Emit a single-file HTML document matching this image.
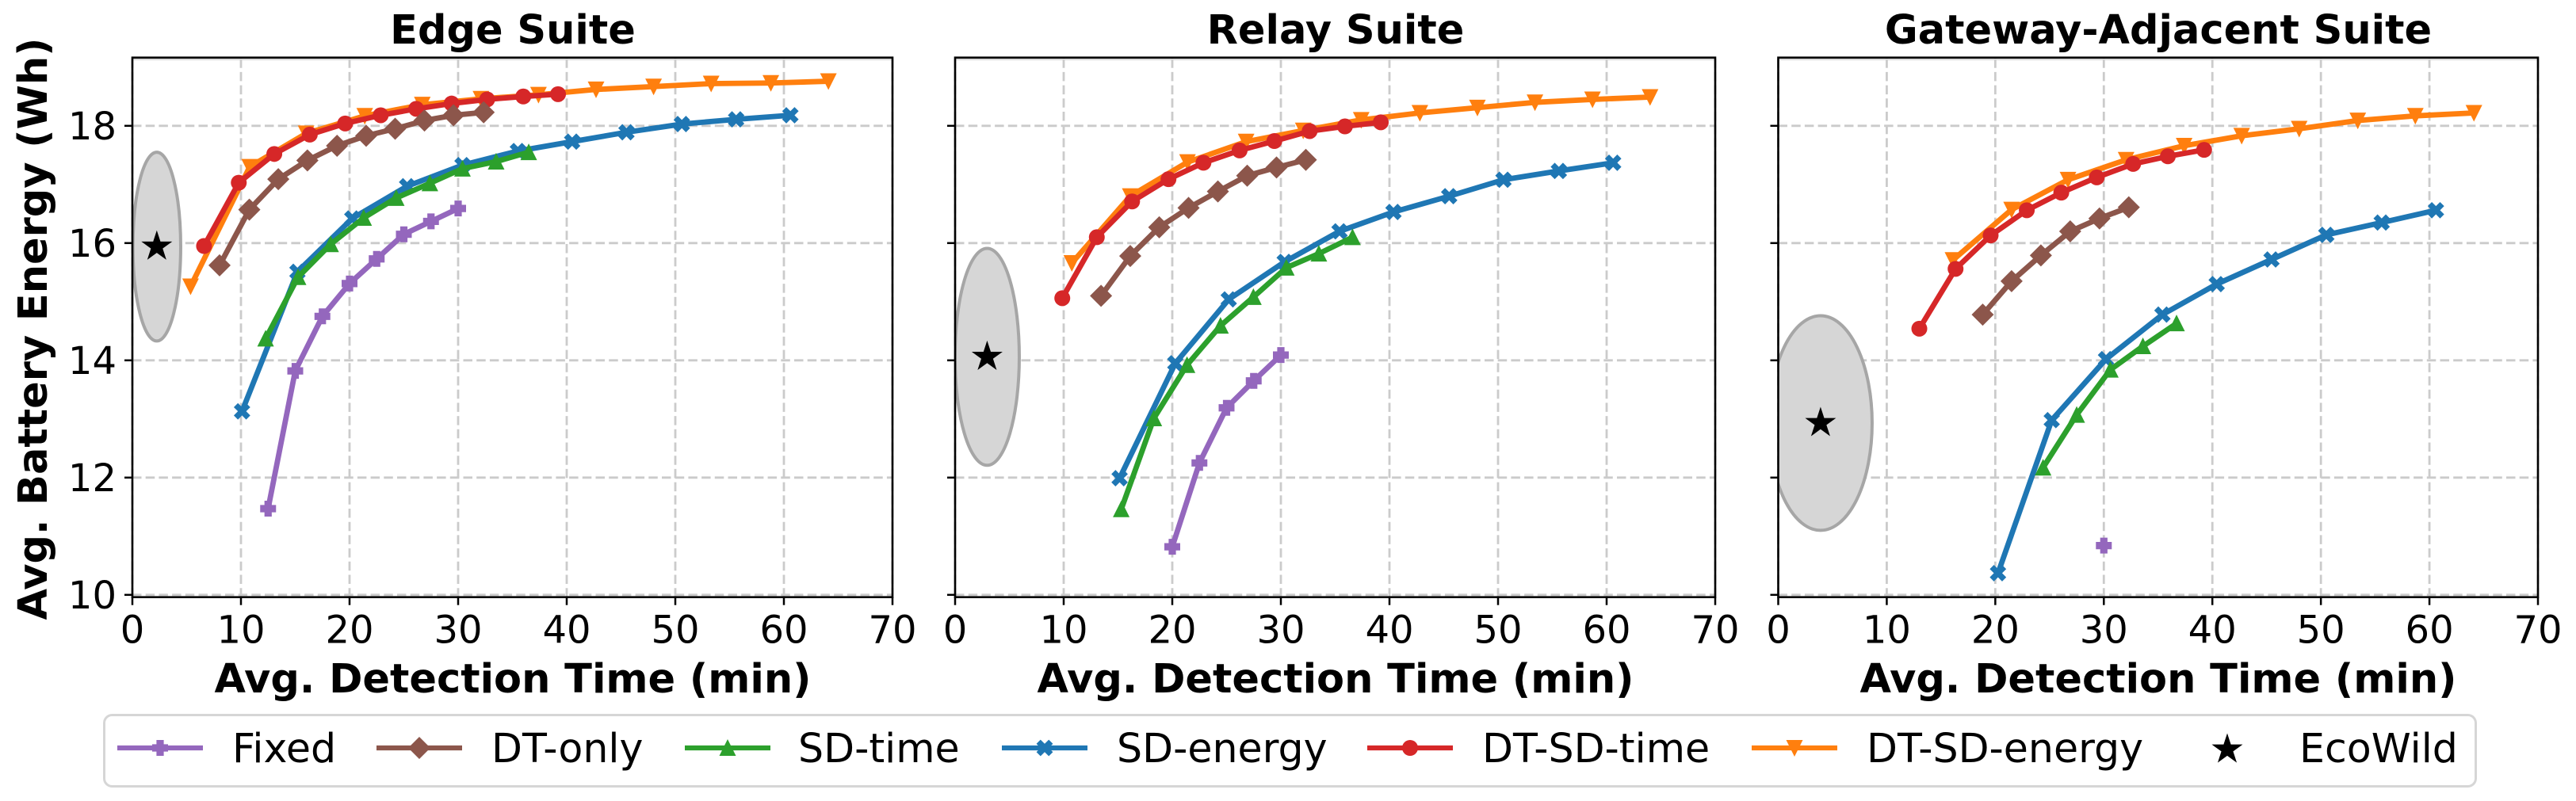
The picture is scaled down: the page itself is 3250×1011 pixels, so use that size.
<!DOCTYPE html>
<html lang="en">
<head>
<meta charset="utf-8">
<title>Avg. Battery Energy vs Avg. Detection Time</title>
<style>
html,body{margin:0;padding:0;background:#fff;}
svg{display:block;}
text{font-family:"DejaVu Sans","Liberation Sans",sans-serif;fill:#000;}
.title,.axis-title{font-size:51px;font-weight:bold;text-anchor:middle;}
.tick{font-size:48px;}
.legend-text{font-size:50.6px;}
</style>
</head>
<body>
<svg id="chart" xmlns="http://www.w3.org/2000/svg" width="3250" height="1011" viewBox="0 0 3250 1011">
  <rect x="0" y="0" width="3250" height="1011" fill="#ffffff"/>
  <g id="panels"></g>
  <text class="axis-title" transform="translate(59,415) rotate(-90)">Avg. Battery Energy (Wh)</text>
  <text class="title" x="647" y="55">Edge Suite</text>
  <text class="title" x="1685" y="55">Relay Suite</text>
  <text class="title" x="2723" y="55">Gateway-Adjacent Suite</text>
  <text class="axis-title" x="647" y="874">Avg. Detection Time (min)</text>
  <text class="axis-title" x="1685" y="874">Avg. Detection Time (min)</text>
  <text class="axis-title" x="2723" y="874">Avg. Detection Time (min)</text>
  <g id="legend">
    <rect x="131.5" y="902.5" width="2992" height="90" rx="10" ry="10" fill="#ffffff" stroke="#d6d6d6" stroke-width="3"/>
    <text class="legend-text" x="293" y="962">Fixed</text>
    <text class="legend-text" x="620" y="962">DT-only</text>
    <text class="legend-text" x="1007" y="962">SD-time</text>
    <text class="legend-text" x="1409" y="962">SD-energy</text>
    <text class="legend-text" x="1870" y="962">DT-SD-time</text>
    <text class="legend-text" x="2355" y="962">DT-SD-energy</text>
    <text class="legend-text" x="2901" y="962">EcoWild</text>
  </g>
</svg>
<script>
// ---------- Chart values ----------
const xTickValues = [0, 10, 20, 30, 40, 50, 60, 70];
const yTickValues = [10, 12, 14, 16, 18];

// Edge Suite
const edgeFixedX = [12.5, 15, 17.5, 20, 22.5, 25, 27.5, 30];
const edgeFixedY = [11.47, 13.82, 14.75, 15.31, 15.73, 16.15, 16.37, 16.59];
const edgeDtOnlyX = [8.03, 10.77, 13.44, 16.12, 18.85, 21.53, 24.2, 26.9, 29.57, 32.35];
const edgeDtOnlyY = [15.62, 16.57, 17.09, 17.41, 17.66, 17.83, 17.95, 18.09, 18.18, 18.23];
const edgeSdTimeX = [12.27, 15.26, 18.26, 21.3, 24.3, 27.4, 30.4, 33.5, 36.5];
const edgeSdTimeY = [14.37, 15.42, 15.98, 16.43, 16.77, 17.02, 17.27, 17.39, 17.55];
const edgeSdEnergyX = [10.1, 15.2, 20.25, 25.3, 30.4, 35.5, 40.5, 45.5, 50.6, 55.6, 60.6];
const edgeSdEnergyY = [13.13, 15.51, 16.42, 16.97, 17.33, 17.57, 17.73, 17.89, 18.03, 18.11, 18.18];
const edgeDtSdTimeX = [6.6, 9.8, 13.07, 16.34, 19.6, 22.87, 26.14, 29.4, 32.67, 36, 39.2];
const edgeDtSdTimeY = [15.95, 17.03, 17.52, 17.85, 18.04, 18.18, 18.29, 18.38, 18.45, 18.5, 18.54];
const edgeDtSdEnergyX = [5.36, 10.8, 16, 21.4, 26.7, 32.1, 37.4, 42.7, 48, 53.3, 58.8, 64.1];
const edgeDtSdEnergyY = [15.26, 17.3, 17.87, 18.17, 18.36, 18.46, 18.53, 18.62, 18.67, 18.72, 18.73, 18.76];

// Relay Suite
const relayFixedX = [20, 22.5, 25, 27.5, 30];
const relayFixedY = [10.82, 12.25, 13.19, 13.65, 14.09];
const relayDtOnlyX = [13.44, 16.13, 18.8, 21.5, 24.2, 26.9, 29.6, 32.3];
const relayDtOnlyY = [15.1, 15.78, 16.27, 16.6, 16.88, 17.15, 17.29, 17.42];
const relaySdTimeX = [15.3, 18.3, 21.36, 24.44, 27.47, 30.5, 33.5, 36.6];
const relaySdTimeY = [11.46, 13.01, 13.92, 14.59, 15.08, 15.58, 15.82, 16.1];
const relaySdEnergyX = [15.15, 20.28, 25.2, 30.35, 35.4, 40.37, 45.5, 50.5, 55.6, 60.6];
const relaySdEnergyY = [11.99, 13.95, 15.04, 15.68, 16.2, 16.53, 16.8, 17.08, 17.23, 17.37];
const relayDtSdTimeX = [9.87, 13.05, 16.3, 19.65, 22.87, 26.2, 29.4, 32.65, 35.9, 39.2];
const relayDtSdTimeY = [15.06, 16.1, 16.71, 17.09, 17.37, 17.58, 17.74, 17.91, 17.99, 18.06];
const relayDtSdEnergyX = [10.75, 16.13, 21.4, 26.8, 32.06, 37.4, 42.8, 48.1, 53.4, 58.7, 64];
const relayDtSdEnergyY = [15.66, 16.8, 17.38, 17.73, 17.92, 18.1, 18.22, 18.31, 18.4, 18.45, 18.49];

// Gateway-Adjacent Suite
const gatewayFixedX = [30];
const gatewayFixedY = [10.84];
const gatewayDtOnlyX = [18.84, 21.5, 24.2, 26.9, 29.6, 32.3];
const gatewayDtOnlyY = [14.78, 15.35, 15.79, 16.2, 16.42, 16.61];
const gatewaySdTimeX = [24.4, 27.5, 30.6, 33.6, 36.7];
const gatewaySdTimeY = [12.17, 13.07, 13.84, 14.24, 14.63];
const gatewaySdEnergyX = [20.25, 25.2, 30.2, 35.4, 40.4, 45.45, 50.5, 55.6, 60.6];
const gatewaySdEnergyY = [10.37, 12.98, 14.02, 14.78, 15.3, 15.72, 16.14, 16.35, 16.56];
const gatewayDtSdTimeX = [13, 16.34, 19.57, 22.9, 26.08, 29.35, 32.7, 35.9, 39.24];
const gatewayDtSdTimeY = [14.54, 15.56, 16.13, 16.56, 16.86, 17.12, 17.35, 17.48, 17.59];
const gatewayDtSdEnergyX = [16.1, 21.5, 26.7, 32.05, 37.4, 42.7, 48, 53.4, 58.7, 64.1];
const gatewayDtSdEnergyY = [15.71, 16.57, 17.08, 17.42, 17.66, 17.83, 17.95, 18.09, 18.17, 18.22];

// EcoWild point and spread per suite: edge, relay, gateway
const ecoWildX = [2.25, 2.95, 3.9];
const ecoWildY = [15.94, 14.06, 12.93];
const ecoSpreadX = [2.2, 2.96, 4.75];
const ecoSpreadY = [1.61, 1.85, 1.83];

// ---------- Layout and styles ----------
const NS = 'http://www.w3.org/2000/svg';
const xDomain = [0, 70];
const yDomain = [10, 18];
const axTop = 72.7, axBottom = 753.7, yAt10 = 750.8, yAt18 = 158.8;
const panelDefs = [
  {id: 'edge', left: 167, right: 1126, showY: true, s: [
    ['dt-sd-energy', edgeDtSdEnergyX, edgeDtSdEnergyY], ['dt-sd-time', edgeDtSdTimeX, edgeDtSdTimeY],
    ['sd-energy', edgeSdEnergyX, edgeSdEnergyY], ['sd-time', edgeSdTimeX, edgeSdTimeY],
    ['dt-only', edgeDtOnlyX, edgeDtOnlyY], ['fixed', edgeFixedX, edgeFixedY]]},
  {id: 'relay', left: 1205, right: 2164, showY: false, s: [
    ['dt-sd-energy', relayDtSdEnergyX, relayDtSdEnergyY], ['dt-sd-time', relayDtSdTimeX, relayDtSdTimeY],
    ['sd-energy', relaySdEnergyX, relaySdEnergyY], ['sd-time', relaySdTimeX, relaySdTimeY],
    ['dt-only', relayDtOnlyX, relayDtOnlyY], ['fixed', relayFixedX, relayFixedY]]},
  {id: 'gateway', left: 2243.5, right: 3202, showY: false, s: [
    ['dt-sd-energy', gatewayDtSdEnergyX, gatewayDtSdEnergyY], ['dt-sd-time', gatewayDtSdTimeX, gatewayDtSdTimeY],
    ['sd-energy', gatewaySdEnergyX, gatewaySdEnergyY], ['sd-time', gatewaySdTimeX, gatewaySdTimeY],
    ['dt-only', gatewayDtOnlyX, gatewayDtOnlyY], ['fixed', gatewayFixedX, gatewayFixedY]]}
];
const seriesColor = {'fixed': '#9467bd', 'dt-only': '#8c564b', 'sd-time': '#2ca02c', 'sd-energy': '#1f77b4', 'dt-sd-time': '#d62728', 'dt-sd-energy': '#ff7f0e'};
const legendHandles = [['fixed', 148], ['dt-only', 475], ['sd-time', 864], ['sd-energy', 1264], ['dt-sd-time', 1725], ['dt-sd-energy', 2210]];

function make(tag, attrs) {
  const el = document.createElementNS(NS, tag);
  for (const k in attrs) el.setAttribute(k, attrs[k]);
  return el;
}

function markerPath(kind, cx, cy) {
  const pts = [];
  const r = 10, a = 4.6;
  if (kind === 'fixed') {
    [[-a,-r],[a,-r],[a,-a],[r,-a],[r,a],[a,a],[a,r],[-a,r],[-a,a],[-r,a],[-r,-a],[-a,-a]].forEach(p => pts.push(p));
  } else if (kind === 'dt-only') {
    [[0,-14],[14,0],[0,14],[-14,0]].forEach(p => pts.push(p));
  } else if (kind === 'sd-time') {
    [[0,-11],[10.5,10],[-10.5,10]].forEach(p => pts.push(p));
  } else if (kind === 'dt-sd-energy') {
    [[0,11],[10.5,-10],[-10.5,-10]].forEach(p => pts.push(p));
  } else if (kind === 'sd-energy') {
    const u = 5.2;
    [[-1,-2],[0,-1],[1,-2],[2,-1],[1,0],[2,1],[1,2],[0,1],[-1,2],[-2,1],[-1,0],[-2,-1]].forEach(p => pts.push([p[0] * u, p[1] * u]));
  }
  return pts.map((p, i) => (i ? 'L' : 'M') + (cx + p[0]).toFixed(2) + ' ' + (cy + p[1]).toFixed(2)).join('') + 'Z';
}

function starPath(cx, cy, R) {
  let d = '';
  for (let i = 0; i < 10; i++) {
    const rad = i % 2 ? R * 0.381966 : R;
    const ang = -Math.PI / 2 + i * Math.PI / 5;
    d += (i ? 'L' : 'M') + (cx + rad * Math.cos(ang)).toFixed(2) + ' ' + (cy + rad * Math.sin(ang)).toFixed(2);
  }
  return d + 'Z';
}

function drawMarker(parent, kind, cx, cy) {
  let el;
  if (kind === 'dt-sd-time') {
    el = make('circle', {cx: cx, cy: cy, r: 10, fill: seriesColor[kind]});
  } else {
    el = make('path', {d: markerPath(kind, cx, cy), fill: seriesColor[kind]});
  }
  
  
  parent.appendChild(el);
}

const panelsRoot = document.getElementById('panels');
const defs = make('defs', {});
panelsRoot.appendChild(defs);

panelDefs.forEach(function (panel, index) {
  const xScale = v => panel.left + (v - xDomain[0]) / (xDomain[1] - xDomain[0]) * (panel.right - panel.left);
  const yScale = v => yAt10 + (v - yDomain[0]) / (yDomain[1] - yDomain[0]) * (yAt18 - yAt10);

  const clip = make('clipPath', {id: 'clip-' + panel.id});
  clip.appendChild(make('rect', {x: panel.left, y: axTop, width: panel.right - panel.left, height: axBottom - axTop}));
  defs.appendChild(clip);

  const g = make('g', {});
  
  
  panelsRoot.appendChild(g);

  // grid
  const gridStyle = {stroke: '#cbcbcb', 'stroke-width': 2.8, 'stroke-dasharray': '11.5 5.2', fill: 'none'};
  xTickValues.forEach(function (t) {
    const line = make('line', Object.assign({x1: xScale(t), x2: xScale(t), y1: axBottom, y2: axTop}, gridStyle));
    
    
    g.appendChild(line);
  });
  yTickValues.forEach(function (t) {
    const line = make('line', Object.assign({x1: panel.left, x2: panel.right, y1: yScale(t), y2: yScale(t)}, gridStyle));
    
    
    g.appendChild(line);
  });

  // EcoWild ellipse
  const clipped = make('g', {'clip-path': 'url(#clip-' + panel.id + ')'});
  
  
  g.appendChild(clipped);
  const ell = make('ellipse', {
    cx: xScale(ecoWildX[index]), cy: yScale(ecoWildY[index]),
    rx: xScale(ecoWildX[index] + ecoSpreadX[index]) - xScale(ecoWildX[index]),
    ry: yScale(ecoWildY[index]) - yScale(ecoWildY[index] + ecoSpreadY[index]),
    fill: '#d6d6d6', stroke: '#a6a6a6', 'stroke-width': 4
  });
  
  
  clipped.appendChild(ell);

  // series
  panel.s.forEach(function (entry) {
    const name = entry[0], xs = entry[1], ys = entry[2];
    const sg = make('g', {});
    
    
    clipped.appendChild(sg);
    if (xs.length > 1) {
      const pl = make('polyline', {
        points: xs.map((x, i) => xScale(x).toFixed(2) + ',' + yScale(ys[i]).toFixed(2)).join(' '),
        fill: 'none', stroke: seriesColor[name], 'stroke-width': 6.8, 'stroke-linejoin': 'round', 'stroke-linecap': 'square'
      });
      
      
      sg.appendChild(pl);
    }
    xs.forEach(function (x, i) {
      drawMarker(sg, name, xScale(x), yScale(ys[i]));
    });
  });

  // EcoWild star
  const star = make('path', {d: starPath(xScale(ecoWildX[index]), yScale(ecoWildY[index]), 20.5), fill: '#000000'});
  
  
  clipped.appendChild(star);

  // ticks and labels
  xTickValues.forEach(function (t) {
    const tick = make('line', {x1: xScale(t), x2: xScale(t), y1: axBottom, y2: axBottom + 10, stroke: '#000', 'stroke-width': 2.5});
    
    
    g.appendChild(tick);
    const label = make('text', {x: xScale(t), y: 811.5, 'text-anchor': 'middle', class: 'tick'});
    
    
    label.textContent = String(t);
    g.appendChild(label);
  });
  yTickValues.forEach(function (t) {
    const tick = make('line', {x1: panel.left - 10, x2: panel.left, y1: yScale(t), y2: yScale(t), stroke: '#000', 'stroke-width': 2.5});
    
    
    g.appendChild(tick);
    if (panel.showY) {
      const label = make('text', {x: 147, y: yScale(t) + 17.4, 'text-anchor': 'end', class: 'tick'});
      
      
      label.textContent = String(t);
      g.appendChild(label);
    }
  });

  // axes frame
  const shadow = make('line', {x1: panel.left, x2: panel.right, y1: axTop + 2.5, y2: axTop + 2.5, stroke: '#cfcfcf', 'stroke-width': 1.5});
  
  
  g.appendChild(shadow);
  const frame = make('rect', {x: panel.left, y: axTop, width: panel.right - panel.left, height: axBottom - axTop, fill: 'none', stroke: '#000', 'stroke-width': 2.6});
  
  
  g.appendChild(frame);
});

// legend handles
const legendRoot = document.getElementById('legend');
legendHandles.forEach(function (h) {
  const hg = make('g', {});
  
  
  legendRoot.appendChild(hg);
  const ln = make('line', {x1: h[1], x2: h[1] + 108, y1: 944, y2: 944, stroke: seriesColor[h[0]], 'stroke-width': 6.2});
  
  
  hg.appendChild(ln);
  drawMarker(hg, h[0], h[1] + 54, 944);
});
const legendStar = make('path', {d: starPath(2810, 946, 20.5), fill: '#000000'});


legendRoot.appendChild(legendStar);
</script>
</body>
</html>
